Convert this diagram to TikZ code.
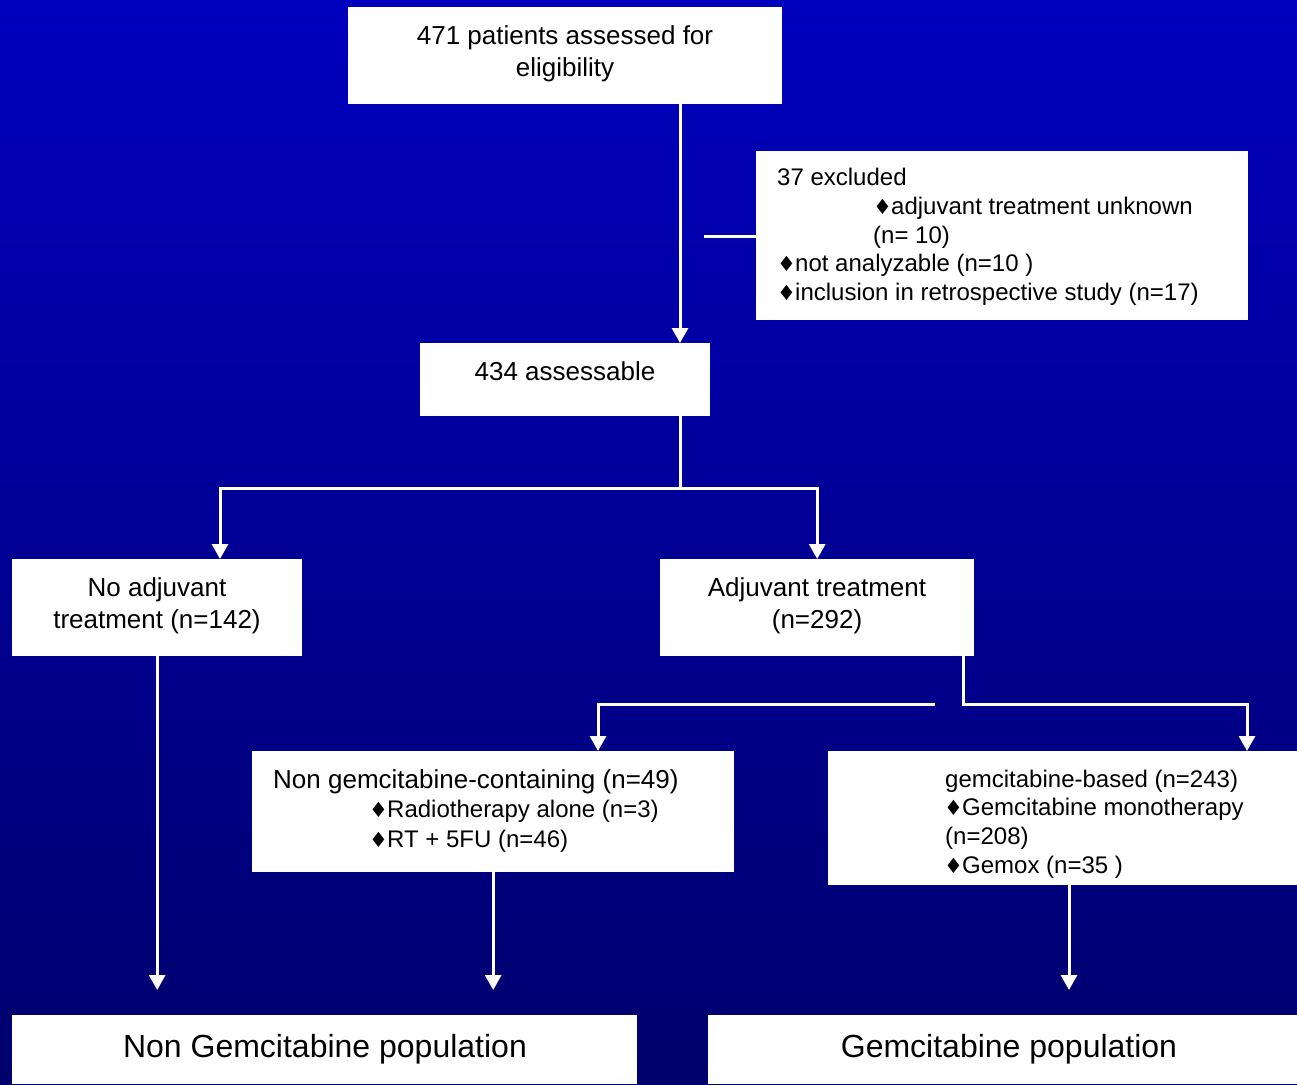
\documentclass[tikz,border=0pt]{standalone}
\usepackage{fontspec}
\setmainfont{Liberation Sans}
\newfontfamily\dejavu{DejaVu Sans}
\usetikzlibrary{arrows.meta,calc}
\definecolor{bgtop}{RGB}{0,0,190}
\definecolor{bgbot}{RGB}{0,0,108}
\newcommand{\dmd}{\makebox[18pt][l]{\dejavu\fontsize{21}{21}\selectfont\char"2666}}
\begin{document}
\begin{tikzpicture}[x=1pt,y=-1pt,
  box/.style={fill=white,draw=none,inner sep=0pt,anchor=north west},
  t26/.style={font=\fontsize{26}{31}\selectfont,inner sep=0pt,text=black},
  t24/.style={font=\fontsize{24}{29}\selectfont,inner sep=0pt,text=black},
  t32/.style={font=\fontsize{32}{38}\selectfont,inner sep=0pt,text=black},
  ln/.style={draw=white,line width=3pt},
  arr/.style={ln,-{Triangle[width=16pt,length=15pt]}}]
\useasboundingbox (0,0) rectangle (1297,1084);
\shade[top color=bgtop,bottom color=bgbot] (0,0) rectangle (1297,1084);

% boxes
\node[box,minimum width=434pt,minimum height=97pt] (top) at (348,7) {};
\node[box,minimum width=492pt,minimum height=169pt] (excl) at (756,151) {};
\node[box,minimum width=290pt,minimum height=73pt] (ass) at (420,343) {};
\node[box,minimum width=290pt,minimum height=97pt] (noadj) at (12,559) {};
\node[box,minimum width=314pt,minimum height=97pt] (adj) at (660,559) {};
\node[box,minimum width=482pt,minimum height=121pt] (nong) at (252,751) {};
\node[box,minimum width=469pt,minimum height=134pt] (gem) at (828,751) {};
\node[box,minimum width=625pt,minimum height=69pt] (ngpop) at (12,1015) {};
\node[box,minimum width=589pt,minimum height=69pt] (gpop) at (708,1015) {};

% texts
\node[t26,anchor=base] (topT1) at (565,44) {471 patients assessed for};
\node[t26,anchor=base] (topT2) at (565,76) {eligibility};

\node[t24,anchor=base west] (ex1) at (777,185) {37 excluded};
\node[t24,anchor=base west] (ex2) at (873,214) {\dmd adjuvant treatment unknown};
\node[t24,anchor=base west] (ex3) at (873,243) {(n= 10)};
\node[t24,anchor=base west] (ex4) at (777,271) {\dmd not analyzable (n=10 )};
\node[t24,anchor=base west] (ex5) at (777,300) {\dmd inclusion in retrospective study (n=17)};

\node[t26,anchor=base] (assT) at (565,380) {434 assessable};

\node[t26,anchor=base] (noT1) at (157,596) {No adjuvant};
\node[t26,anchor=base] (noT2) at (157,628) {treatment (n=142)};
\node[t26,anchor=base] (adT1) at (817,596) {Adjuvant treatment};
\node[t26,anchor=base] (adT2) at (817,628) {(n=292)};

\node[t26,anchor=base west] (ngT1) at (273,788) {Non gemcitabine-containing (n=49)};
\node[t24,anchor=base west] (ngT2) at (369,817) {\dmd Radiotherapy alone (n=3)};
\node[t24,anchor=base west] (ngT3) at (369,847) {\dmd RT + 5FU (n=46)};

\node[t24,anchor=base west] (gmT1) at (945,787) {gemcitabine-based (n=243)};
\node[t24,anchor=base west] (gmT2) at (944,815) {\dmd Gemcitabine monotherapy};
\node[t24,anchor=base west] (gmT3) at (945,844) {(n=208)};
\node[t24,anchor=base west] (gmT4) at (944,873) {\dmd Gemox (n=35 )};

\node[t32,anchor=base] (ngpT) at (325,1057) {Non Gemcitabine population};
\node[t32,anchor=base] (gpT) at (1009,1057) {Gemcitabine population};

% connectors
\coordinate (xA) at (680,0);
\draw[arr] (top.south -| xA) -- (ass.north -| xA);
\coordinate (exS) at (704,236);
\draw[ln] (exS) -- (exS -| excl.west);
\coordinate (sp) at (680,488);
\draw[ln] (ass.south -| xA) -- (sp);
\coordinate (xNo) at (220,0);
\draw[arr] (sp) -| (noadj.north -| xNo);
\draw[arr] (sp) -| (adj.north);
\coordinate (xG) at (963,0);
\coordinate (xGa) at (1247,0);
\coordinate (g1) at (963,704);
\draw[arr] (adj.south -| xG) -- (g1) -| (gem.north -| xGa);
\coordinate (g2) at (935,704);
\coordinate (xNg) at (598,0);
\draw[arr] (g2) -| (nong.north -| xNg);
\draw[arr,shorten >=25pt] (noadj.south) -- (noadj.south |- ngpop.north);
\draw[arr,shorten >=25pt] (nong.south) -- (nong.south |- ngpop.north);
\coordinate (xGp) at (1069,0);
\draw[arr,shorten >=25pt] (gem.south -| xGp) -- (gpop.north -| xGp);
\end{tikzpicture}
\end{document}
